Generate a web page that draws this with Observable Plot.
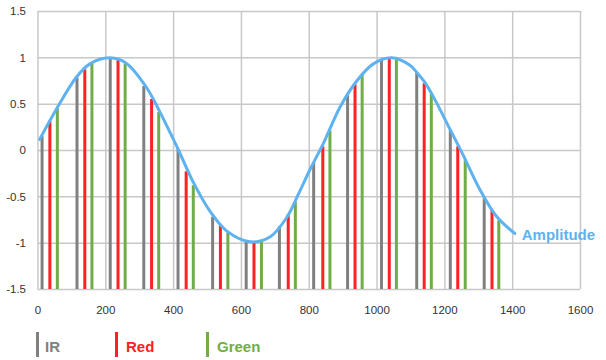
<!DOCTYPE html>
<html><head><meta charset="utf-8">
<script src="https://cdn.jsdelivr.net/npm/d3@7"></script>
<script src="https://cdn.jsdelivr.net/npm/@observablehq/plot@0.6"></script>
<style>
body{margin:0;background:#fff;font-family:"Liberation Sans",Arial,sans-serif;}
#chart svg{display:block;}
#legend{position:relative;height:38px;width:606px;}
.sw{position:absolute;top:10px;width:3px;height:25px;}
.lbl{position:absolute;top:17px;font-weight:bold;font-size:15px;line-height:15px;white-space:nowrap;}
</style></head><body><div id="chart"></div><div id="legend"></div>
<script>
const xTicks = [0, 200, 400, 600, 800, 1000, 1200, 1400, 1600];
const yTicks = [-1.5, -1, -0.5, 0, 0.5, 1, 1.5];

const irX = [12, 115, 213, 312, 413, 515, 614, 712, 813, 913, 1013, 1117, 1216, 1316];
const irY = [0.15, 0.78, 0.99, 0.69, 0.01, -0.72, -0.99, -0.82, -0.13, 0.59, 0.97, 0.83, 0.22, -0.52];
const redX = [35, 138, 236, 335, 437, 538, 637, 738, 840, 935, 1036, 1139, 1238, 1339];
const redY = [0.31, 0.87, 0.97, 0.55, -0.23, -0.81, -0.99, -0.69, 0.04, 0.71, 0.99, 0.72, 0.04, -0.65];
const greenX = [57, 159, 257, 356, 458, 560, 659, 759, 861, 956, 1057, 1160, 1260, 1359];
const greenY = [0.45, 0.93, 0.93, 0.41, -0.38, -0.89, -0.97, -0.56, 0.21, 0.81, 0.98, 0.61, -0.11, -0.76];

const ampX = [5, 55, 113, 153, 213, 261, 320, 359, 390, 415, 459, 508, 557, 626, 685, 734, 768, 803, 842, 891, 940, 989, 1043, 1097, 1118, 1140, 1169, 1215, 1254, 1303, 1352, 1406];
const ampY = [0.12, 0.45, 0.79, 0.935, 1.0, 0.94, 0.68, 0.42, 0.19, 0.0, -0.35, -0.66, -0.87, -0.985, -0.93, -0.72, -0.47, -0.2, 0.08, 0.47, 0.75, 0.935, 1.0, 0.92, 0.84, 0.74, 0.56, 0.23, -0.05, -0.42, -0.71, -0.895];

const seriesNames = ["IR", "Red", "Green"];
const seriesColors = ["#808080", "#ff2020", "#70ad47"];
const ampLabel = "Amplitude";
const ampColor = "#5eb2f0";

const zip = (xs, ys) => xs.map((x, i) => ({x, y: ys[i]}));
const ir = zip(irX, irY), red = zip(redX, redY), green = zip(greenX, greenY);
const amp = zip(ampX, ampY);
const gridStyle = {stroke: "#c8c8c8", strokeOpacity: 1, strokeWidth: 1.5};

const plot = Plot.plot({
  width: 606, height: 322,
  marginLeft: 37.5, marginRight: 26, marginTop: 11, marginBottom: 33,
  style: {fontFamily: "Liberation Sans, Arial, sans-serif", fontSize: "11.5px", color: "#333", background: "#fff", overflow: "visible"},
  x: {domain: [0, 1600]},
  y: {domain: [-1.5, 1.5]},
  marks: [
    Plot.gridX(xTicks, gridStyle),
    Plot.gridY(yTicks, gridStyle),
    Plot.ruleX(ir, {x: "x", y1: -1.5, y2: "y", stroke: seriesColors[0], strokeWidth: 3}),
    Plot.ruleX(red, {x: "x", y1: -1.5, y2: "y", stroke: seriesColors[1], strokeWidth: 3}),
    Plot.ruleX(green, {x: "x", y1: -1.5, y2: "y", stroke: seriesColors[2], strokeWidth: 3}),
    Plot.line(amp, {x: "x", y: "y", curve: "catmull-rom", stroke: ampColor, strokeWidth: 3}),
    Plot.text([amp[amp.length - 1]], {x: "x", y: "y", text: () => ampLabel, textAnchor: "start", dx: 7, dy: 2, fill: ampColor, fontWeight: "bold", fontSize: 15}),
    Plot.axisX(xTicks, {tickSize: 0, tickPadding: 16, tickFormat: d => String(d), label: null, fill: "#333"}),
    Plot.axisY(yTicks, {tickSize: 0, tickPadding: 12, tickFormat: d => String(d), label: null, fill: "#333"})
  ]
});
document.getElementById("chart").appendChild(plot);

const legend = document.getElementById("legend");
const swLeft = [36, 115, 206];
const lblLeft = [45, 126, 217];
seriesNames.forEach((name, i) => {
  const sw = document.createElement("div");
  sw.className = "sw"; sw.style.left = swLeft[i] + "px"; sw.style.background = seriesColors[i];
  legend.appendChild(sw);
  const lb = document.createElement("div");
  lb.className = "lbl"; lb.style.left = lblLeft[i] + "px"; lb.style.color = seriesColors[i];
  lb.textContent = name;
  legend.appendChild(lb);
});
</script></body></html>
